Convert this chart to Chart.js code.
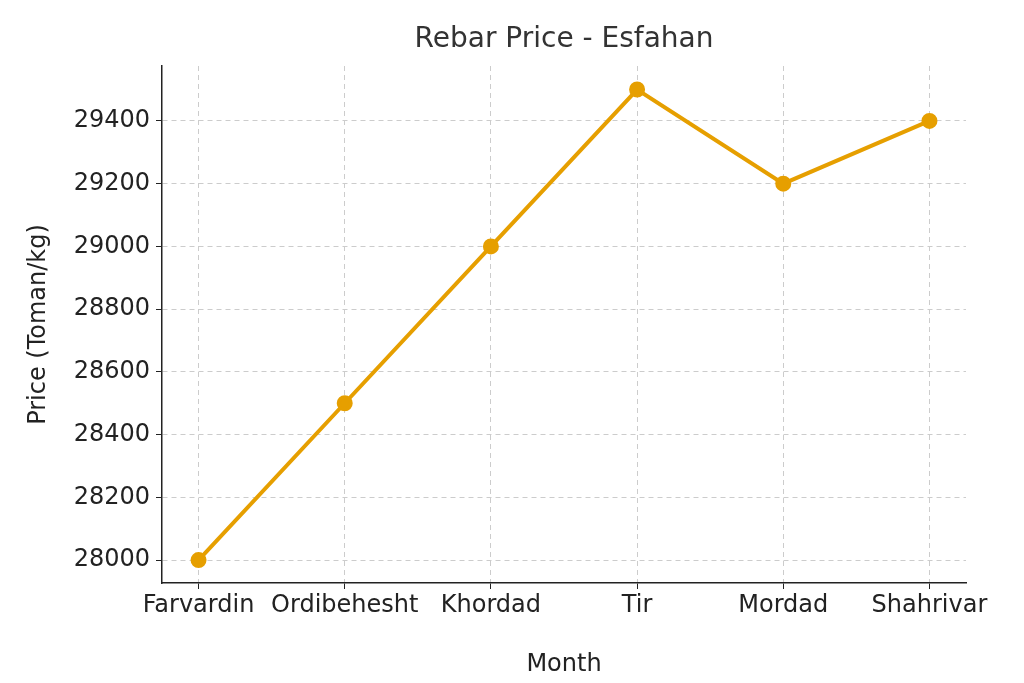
<!DOCTYPE html>
<html>
<head>
<meta charset="utf-8">
<script src="https://cdn.jsdelivr.net/npm/chart.js@4"></script>
<style>
  html, body { margin: 0; padding: 0; background: #fff; }
  #wrap { width: 1024px; height: 683px; }
</style>
</head>
<body>
<div id="wrap"><canvas id="chart"></canvas></div>
<script>
// Data
const months = ['Farvardin', 'Ordibehesht', 'Khordad', 'Tir', 'Mordad', 'Shahrivar'];
const prices = [28000, 28500, 29000, 29500, 29200, 29400];
const yTicks = [28000, 28200, 28400, 28600, 28800, 29000, 29200, 29400];

const LINE = '#E69F00';
const FONT = "'DejaVu Sans', sans-serif";

// title centred over the plot area, like the reference
const plotTitle = {
  id: 'plotTitle',
  afterDraw(chart) {
    const { ctx, chartArea } = chart;
    ctx.save();
    ctx.fillStyle = '#333';
    ctx.font = "28px 'DejaVu Sans', sans-serif";
    ctx.textAlign = 'center';
    ctx.textBaseline = 'middle';
    ctx.fillText('Rebar Price - Esfahan', (chartArea.left + chartArea.right) / 2, 40);
    ctx.restore();
  }
};

new Chart(document.getElementById('chart'), {
  type: 'line',
  data: {
    datasets: [{
      data: prices.map((p, i) => ({ x: i, y: p })),
      borderColor: LINE,
      backgroundColor: LINE,
      borderWidth: 4,
      pointRadius: 6,
      tension: 0
    }]
  },
  options: {
    responsive: true,
    maintainAspectRatio: false,
    animation: false,
    layout: { padding: { top: 66, right: 58, left: 20, bottom: 0 } },
    plugins: {
      legend: { display: false },
      tooltip: { enabled: false },
      title: { display: false }
    },
    scales: {
      x: {
        type: 'linear',
        min: -0.25,
        max: 5.25,
        afterBuildTicks: s => { s.ticks = months.map((m, i) => ({ value: i })); },
        afterFit: s => { s.height = 100; },
        ticks: {
          color: '#222',
          font: { family: FONT, size: 24 },
          maxRotation: 0,
          autoSkip: false,
          padding: 2,
          callback: v => months[v]
        },
        grid: { color: '#cccccc', tickColor: '#222', tickLength: 6, lineWidth: 1 },
        border: { display: true, color: '#222', width: 1.5, dash: [5, 4] },
        title: {
          display: true, text: 'Month', color: '#222',
          font: { family: FONT, size: 24 }, padding: { top: 0 }
        }
      },
      y: {
        min: 27927,
        max: 29575,
        afterBuildTicks: s => { s.ticks = yTicks.map(v => ({ value: v })); },
        afterFit: s => { s.width = 142; },
        ticks: {
          color: '#222',
          font: { family: FONT, size: 24 },
          padding: 6,
          callback: v => String(v)
        },
        grid: { color: '#cccccc', tickColor: '#222', tickLength: 6, lineWidth: 1 },
        border: { display: true, color: '#222', width: 1.5, dash: [5, 4] },
        title: {
          display: true, text: 'Price (Toman/kg)', color: '#222',
          font: { family: FONT, size: 24 }, padding: { bottom: 0 }
        }
      }
    }
  },
  plugins: [plotTitle]
});
</script>
</body>
</html>
